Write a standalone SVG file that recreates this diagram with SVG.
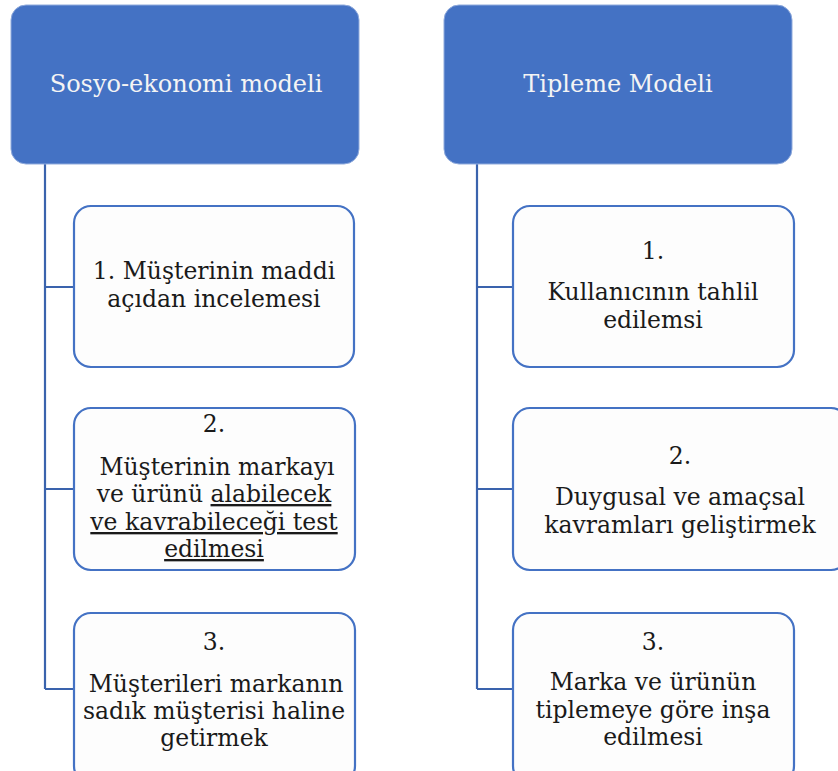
<svg xmlns="http://www.w3.org/2000/svg" width="838" height="771" viewBox="0 0 838 771">
<style>
.hdr{fill:#4472C4;stroke:#8FAADC;stroke-width:1}
.box{fill:#FDFDFD;stroke:#4472C4;stroke-width:2.2}
.conn{fill:none;stroke:#3A63AD;stroke-width:2.2}
.ht{font-family:"DejaVu Serif","Liberation Serif",serif;font-size:24px;fill:#F4F4F4;text-anchor:middle}
.t{font-family:"DejaVu Serif","Liberation Serif",serif;font-size:23.5px;fill:#1A1A1A;text-anchor:middle}
.u{text-decoration:underline}
</style>
<rect width="838" height="771" fill="#FFFFFF"/>
<g id="connectors">
<path class="conn" d="M45,164 V689 M45,287 H74 M45,489 H74 M45,689 H74"/>
<path class="conn" d="M477,164 V689 M477,287 H513 M477,489 H513 M477,689 H513"/>
</g>
<g id="hdr-left">
<rect class="hdr" x="11" y="5" width="348" height="159" rx="15"/>
<text class="ht" x="186" y="92">Sosyo-ekonomi modeli</text>
</g>
<g id="hdr-right">
<rect class="hdr" x="444" y="5" width="348" height="159" rx="15"/>
<text class="ht" x="618" y="92">Tipleme Modeli</text>
</g>
<g id="left-1">
<rect class="box" x="74" y="206" width="280" height="161" rx="17"/>
<text class="t" x="214" y="279">1. Müşterinin maddi</text>
<text class="t" x="214" y="307">açıdan incelemesi</text>
</g>
<g id="left-2">
<rect class="box" x="74" y="408" width="281" height="162" rx="17"/>
<text class="t" x="214" y="432">2.</text>
<text class="t" x="217" y="475">Müşterinin markayı</text>
<text class="t" x="214" y="502">ve ürünü <tspan class="u">alabilecek</tspan></text>
<text class="t u" x="214" y="530">ve kavrabileceği test</text>
<text class="t u" x="214" y="557">edilmesi</text>
</g>
<g id="left-3">
<rect class="box" x="74" y="613" width="281" height="170" rx="17"/>
<text class="t" x="214" y="650">3.</text>
<text class="t" x="216" y="692">Müşterileri markanın</text>
<text class="t" x="214" y="719">sadık müşterisi haline</text>
<text class="t" x="214" y="746">getirmek</text>
</g>
<g id="right-1">
<rect class="box" x="513" y="206" width="281" height="161" rx="17"/>
<text class="t" x="653" y="259">1.</text>
<text class="t" x="653" y="300">Kullanıcının tahlil</text>
<text class="t" x="653" y="328">edilemsi</text>
</g>
<g id="right-2">
<rect class="box" x="513" y="408" width="335" height="162" rx="17"/>
<text class="t" x="680" y="464">2.</text>
<text class="t" x="680" y="505">Duygusal ve amaçsal</text>
<text class="t" x="680" y="533">kavramları geliştirmek</text>
</g>
<g id="right-3">
<rect class="box" x="513" y="613" width="281" height="170" rx="17"/>
<text class="t" x="653" y="650">3.</text>
<text class="t" x="653" y="690">Marka ve ürünün</text>
<text class="t" x="653" y="718">tiplemeye göre inşa</text>
<text class="t" x="653" y="745">edilmesi</text>
</g>
</svg>
